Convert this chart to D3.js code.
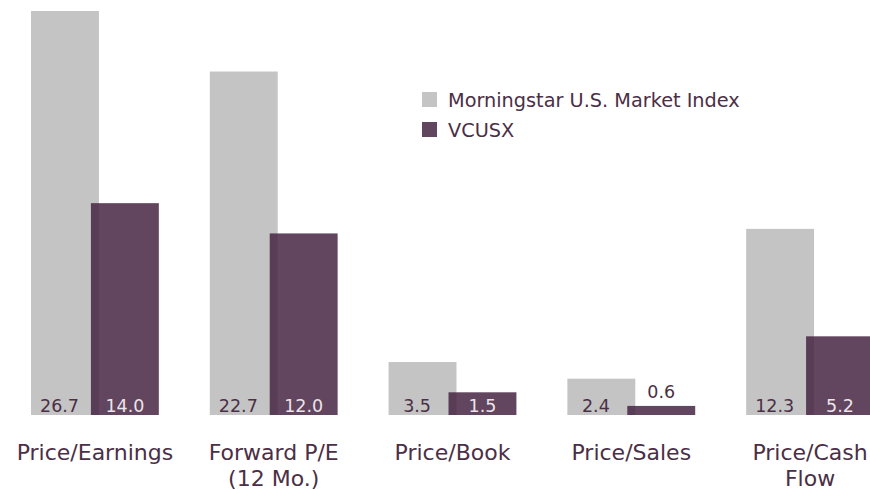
<!DOCTYPE html>
<html>
<head>
<meta charset="utf-8">
<script src="https://cdn.jsdelivr.net/npm/d3@7"></script>
<style>
  body { margin: 0; background: #fff; }
  svg { display: block; font-family: "DejaVu Sans", sans-serif; }
  .cat-label { font-size: 22px; fill: #4a2f46; }
  .value-label { font-size: 17.5px; }
  .legend-label { font-size: 19.3px; fill: #4a2f46; }
</style>
</head>
<body>
<svg id="chart"></svg>
<script>
// chart data
const categories = ["Price/Earnings", "Forward P/E\n(12 Mo.)", "Price/Book", "Price/Sales", "Price/Cash\nFlow"];
const seriesNames = ["Morningstar U.S. Market Index", "VCUSX"];
const indexValues = [26.7, 22.7, 3.5, 2.4, 12.3];
const fundValues = [14.0, 12.0, 1.5, 0.6, 5.2];

const config = {
  width: 870,
  height: 490,
  baseline: 415,
  top: 11,
  colors: ["#c4c4c4", "#472542"],
};

const svg = d3.select("#chart")
  .attr("width", config.width)
  .attr("height", config.height);

const x = d3.scaleBand()
  .domain(categories)
  .range([31, 874])
  .paddingInner(0.285)
  .paddingOuter(0);

const y = d3.scaleLinear()
  .domain([0, d3.max(indexValues)])
  .range([config.baseline, config.top]);

// each group: gray bar then purple bar, overlapping a little
const barW = x.bandwidth() * 68 / 128;
const offset = x.bandwidth() - barW;

const rows = categories.map((c, i) => ({ cat: c, index: indexValues[i], fund: fundValues[i] }));

const groups = svg.selectAll(".group")
  .data(rows)
  .enter()
  .append("g")
  .attr("class", "group")
  .attr("transform", d => `translate(${x(d.cat)},0)`);

groups.append("rect")
  .attr("x", 0)
  .attr("y", d => y(d.index))
  .attr("width", barW)
  .attr("height", d => y(0) - y(d.index))
  .attr("fill", config.colors[0]);

groups.append("rect")
  .attr("x", offset)
  .attr("y", d => y(d.fund))
  .attr("width", barW)
  .attr("height", d => y(0) - y(d.fund))
  .attr("fill", config.colors[1])
  .attr("fill-opacity", 0.85);

// value labels
groups.append("text")
  .attr("class", "value-label")
  .attr("x", barW * 0.42)
  .attr("y", config.baseline - 3)
  .attr("text-anchor", "middle")
  .attr("fill", "#4a2f46")
  .text(d => d.index.toFixed(1));

groups.append("text")
  .attr("class", "value-label")
  .attr("x", offset + barW / 2)
  .attr("y", d => (y(0) - y(d.fund) < 20 ? y(d.fund) - 8 : config.baseline - 3))
  .attr("text-anchor", "middle")
  .attr("fill", d => (y(0) - y(d.fund) < 20 ? "#4a2f46" : "#ebe4e9"))
  .text(d => d.fund.toFixed(1));

// category labels, may wrap to two lines
const catText = groups.append("text")
  .attr("class", "cat-label")
  .attr("text-anchor", "middle")
  .attr("y", 460);

catText.selectAll("tspan")
  .data(d => d.cat.split("\n"))
  .enter()
  .append("tspan")
  .attr("x", x.bandwidth() / 2)
  .attr("dy", (d, i) => (i === 0 ? 0 : 26))
  .text(d => d);

// legend
const legend = svg.append("g")
  .attr("transform", "translate(422,92)");

const items = legend.selectAll(".legend-item")
  .data(seriesNames)
  .enter()
  .append("g")
  .attr("class", "legend-item")
  .attr("transform", (d, i) => `translate(0,${i * 30})`);

items.append("rect")
  .attr("width", 15)
  .attr("height", 15)
  .attr("fill", (d, i) => config.colors[i])
  .attr("fill-opacity", (d, i) => (i === 1 ? 0.85 : 1));

items.append("text")
  .attr("class", "legend-label")
  .attr("x", 26)
  .attr("y", 15)
  .text(d => d);
</script>
</body>
</html>
